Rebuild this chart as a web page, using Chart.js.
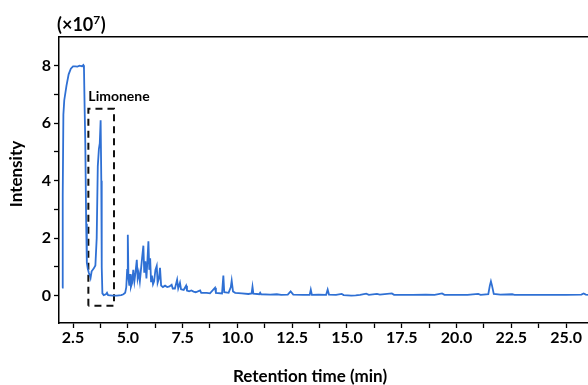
<!DOCTYPE html>
<html>
<head>
<meta charset="utf-8">
<script src="https://cdn.jsdelivr.net/npm/chart.js@4/dist/chart.umd.min.js"></script>
<style>
  html, body { margin: 0; padding: 0; background: #fff; }
  #wrap { width: 588px; height: 385px; }
</style>
</head>
<body>
<div id="wrap"><canvas id="gcChart" width="588" height="385"></canvas></div>
<script>
// retention time (min) and intensity (x10^7)
const retentionTimes = [
  2.00, 2.03, 2.06, 2.10, 2.20, 2.30, 2.40, 2.50, 2.60, 2.70, 2.80, 2.90, 2.97,
  3.00, 3.03, 3.06, 3.10, 3.13, 3.17, 3.22, 3.27, 3.30, 3.35, 3.45, 3.52, 3.58,
  3.63, 3.68, 3.72, 3.76, 3.79, 3.81, 3.84, 3.90, 4.00, 4.05, 4.10, 4.30, 4.50,
  4.70, 4.80, 4.88, 4.93, 4.97, 5.00, 5.03, 5.07, 5.10, 5.14, 5.20, 5.25, 5.30,
  5.35, 5.41, 5.45, 5.50, 5.55, 5.60, 5.65, 5.71, 5.75, 5.80, 5.85, 5.90, 5.94,
  5.98, 6.02, 6.06, 6.10, 6.15, 6.20, 6.26, 6.32, 6.36, 6.42, 6.47, 6.52, 6.60,
  6.70, 6.80, 6.90, 7.00, 7.05, 7.15, 7.25, 7.30, 7.38, 7.43, 7.55, 7.66, 7.70,
  7.80, 7.90, 8.00, 8.10, 8.30, 8.35, 8.60, 8.75, 8.98, 9.02, 9.30, 9.36, 9.40,
  9.60, 9.70, 9.74, 9.80, 9.90, 10.20, 10.50, 10.65, 10.69, 10.73, 11.00, 11.04,
  11.08, 11.50, 11.80, 12.00, 12.30, 12.43, 12.55, 13.00, 13.30, 13.35, 13.40,
  13.70, 14.05, 14.12, 14.18, 14.50, 14.76, 14.85, 15.20, 15.40, 15.60, 15.88,
  16.00, 16.37, 16.50, 17.05, 17.15, 18.00, 18.60, 19.00, 19.34, 19.45, 20.50,
  20.99, 21.10, 21.45, 21.52, 21.57, 21.62, 21.70, 22.00, 22.54, 22.65, 23.50,
  24.50, 25.00, 25.70, 25.80, 25.90, 26.00
];
const intensities = [
  0.28, 3.50, 6.30, 6.80, 7.30, 7.70, 7.90, 7.98, 7.98, 7.97, 8.00, 7.98, 8.02,
  7.90, 6.50, 5.30, 2.50, 1.15, 0.95, 0.80, 0.70, 0.62, 0.85, 0.95, 1.05, 2.00,
  4.50, 5.10, 5.30, 6.10, 4.00, 1.00, 0.08, 0.02, 0.05, 0.10, 0.02, 0.00, 0.00,
  0.02, 0.05, 0.10, 0.30, 0.90, 2.12, 0.60, 0.35, 0.75, 0.30, 0.45, 0.90, 0.50,
  0.80, 1.25, 0.60, 0.80, 0.50, 0.90, 1.30, 1.74, 0.80, 1.20, 0.60, 1.30, 1.89,
  0.90, 1.30, 0.50, 0.70, 0.40, 0.50, 0.90, 1.04, 0.45, 0.60, 0.97, 0.35, 0.30,
  0.35, 0.30, 0.32, 0.38, 0.25, 0.25, 0.56, 0.25, 0.45, 0.22, 0.20, 0.35, 0.18,
  0.15, 0.18, 0.14, 0.12, 0.18, 0.10, 0.10, 0.08, 0.28, 0.10, 0.08, 0.70, 0.12,
  0.10, 0.30, 0.52, 0.15, 0.10, 0.08, 0.06, 0.08, 0.31, 0.07, 0.05, 0.10,
  0.05, 0.04, 0.05, 0.03, 0.04, 0.15, 0.04, 0.03, 0.03, 0.21, 0.03,
  0.04, 0.03, 0.21, 0.04, 0.03, 0.06, 0.02, 0.00, 0.01, 0.03, 0.07,
  0.03, 0.06, 0.04, 0.08, 0.03, 0.03, 0.04, 0.03, 0.08, 0.03, 0.03,
  0.06, 0.03, 0.05, 0.35, 0.50, 0.35, 0.06, 0.04, 0.05, 0.03, 0.03,
  0.03, 0.03, 0.04, 0.08, 0.04, 0.03
];

// dashed box around the limonene peak: [left, right] min, [bottom, top] intensity
const boxTimes = [3.2, 4.37];
const boxIntensity = [-0.35, 6.5];
const peakLabel = "Limonene";
const peakLabelAt = [3.2, 6.92];

const xTickValues = [2.5, 3.75, 5.0, 6.25, 7.5, 8.75, 10.0, 11.25, 12.5, 13.75,
  15.0, 16.25, 17.5, 18.75, 20.0, 21.25, 22.5, 23.75, 25.0];
const yTickValues = [0, 1, 2, 3, 4, 5, 6, 7, 8];

const xMin = 1.86, xMax = 26.0;
const yMin = -0.95, yMax = 9.0;

const FONT = "Lato, 'Liberation Sans', sans-serif";

const chromatogram = retentionTimes.map((t, i) => ({ x: t, y: intensities[i] }));
const box = [
  { x: boxTimes[0], y: boxIntensity[0] },
  { x: boxTimes[0], y: boxIntensity[1] },
  { x: boxTimes[1], y: boxIntensity[1] },
  { x: boxTimes[1], y: boxIntensity[0] },
  { x: boxTimes[0], y: boxIntensity[0] },
];

const textPlugin = {
  id: "texts",
  afterDraw(chart) {
    const { ctx, scales } = chart;
    ctx.save();
    ctx.fillStyle = "#000";

    // multiplier above the axis
    ctx.font = "bold 18px " + FONT;
    ctx.textBaseline = "alphabetic";
    ctx.textAlign = "left";
    let x = 57;
    const base = 31;
    ctx.fillText("(×10", x, base);
    x += ctx.measureText("(×10").width;
    ctx.font = "bold 12px " + FONT;
    ctx.fillText("7", x, base - 7);
    x += ctx.measureText("7").width + 0.5;
    ctx.font = "bold 18px " + FONT;
    ctx.fillText(")", x, base);

    // peak label, left edge lined up with the box
    ctx.font = "bold 14px " + FONT;
    ctx.textBaseline = "middle";
    ctx.fillText(peakLabel, scales.x.getPixelForValue(peakLabelAt[0]),
      scales.y.getPixelForValue(peakLabelAt[1]));

    // axis titles
    ctx.textAlign = "center";
    ctx.font = "bold 17px " + FONT;
    ctx.fillText("Retention time (min)", 310, 377);
    ctx.translate(17, 174);
    ctx.rotate(-Math.PI / 2);
    ctx.fillText("Intensity", 0, 0);
    ctx.restore();
  },
};

new Chart(document.getElementById("gcChart"), {
  type: "line",
  data: {
    datasets: [
      {
        data: chromatogram,
        borderColor: "#2f70d4",
        borderWidth: 1.8,
        pointRadius: 0,
        tension: 0,
      },
      {
        data: box,
        borderColor: "#111",
        borderWidth: 2,
        borderDash: [7, 5],
        pointRadius: 0,
        tension: 0,
      },
    ],
  },
  options: {
    responsive: false,
    animation: false,
    layout: { padding: { top: 37, right: 0, left: 0, bottom: 0 } },
    plugins: { legend: { display: false }, tooltip: { enabled: false } },
    scales: {
      x: {
        type: "linear",
        min: xMin,
        max: xMax,
        afterBuildTicks: (s) => { s.ticks = xTickValues.map((v) => ({ value: v })); },
        afterFit: (s) => { s.height = 62; },
        ticks: {
          autoSkip: false,
          maxRotation: 0,
          padding: 0,
          color: "#000",
          font: { family: FONT, size: 16, weight: "bold" },
          callback: (v) => (Math.abs(v / 2.5 - Math.round(v / 2.5)) < 1e-6 ? v.toFixed(1) : ""),
        },
        grid: { drawOnChartArea: false, tickLength: 5, color: "#000", tickWidth: 1.3 },
        border: { color: "#000", width: 1.5 },
      },
      xTop: {
        type: "linear",
        position: "top",
        min: xMin,
        max: xMax,
        afterFit: (s) => { s.height = 0; },
        ticks: { display: false },
        grid: { display: false },
        border: { color: "#000", width: 1.5 },
      },
      y: {
        min: yMin,
        max: yMax,
        afterBuildTicks: (s) => { s.ticks = yTickValues.map((v) => ({ value: v })); },
        afterFit: (s) => { s.width = 59; },
        ticks: {
          autoSkip: false,
          padding: 3,
          color: "#000",
          font: { family: FONT, size: 16, weight: "bold" },
          callback: (v) => (v % 2 === 0 ? String(v) : ""),
        },
        grid: { drawOnChartArea: false, tickLength: 5, color: "#000", tickWidth: 1.3 },
        border: { color: "#000", width: 1.5 },
      },
    },
  },
  plugins: [textPlugin],
});
</script>
</body>
</html>
